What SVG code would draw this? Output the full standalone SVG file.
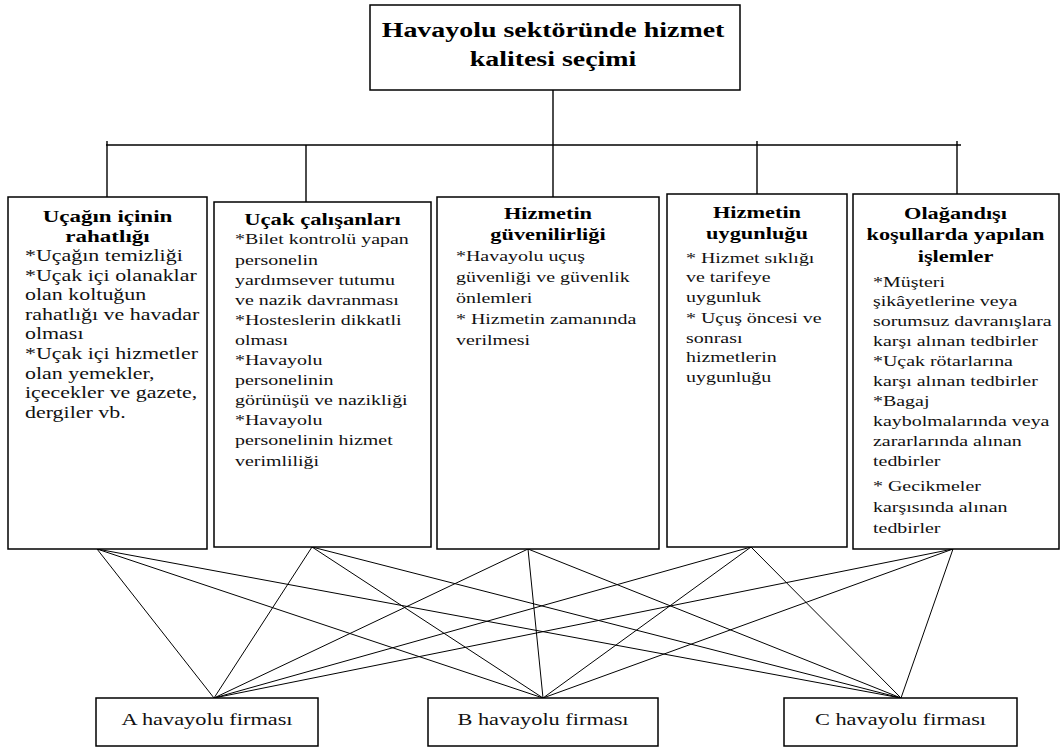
<svg xmlns="http://www.w3.org/2000/svg" width="1062" height="751" viewBox="0 0 1062 751">
  <defs>
    <style>
      .box { fill: #fff; stroke: #000; stroke-width: 1.5; }
      .wire { stroke: #000; stroke-width: 1.4; fill: none; }
      .link { stroke: #000; stroke-width: 1; fill: none; }
      .ttl { font-family: "Liberation Serif", "Times New Roman", serif; font-weight: bold; font-size: 21px; text-anchor: middle; fill: #000; }
      .h { font-family: "Liberation Serif", "Times New Roman", serif; font-weight: bold; font-size: 16.8px; text-anchor: middle; fill: #000; }
      .b { font-family: "Liberation Serif", "Times New Roman", serif; font-size: 15px; fill: #111; }
      .bl { font-size: 16.5px; }
      .f { font-family: "Liberation Serif", "Times New Roman", serif; font-size: 16.8px; text-anchor: middle; fill: #111; }
    </style>
  </defs>

  <!-- links between criteria and airlines -->
  <g id="connectors">
    <g id="tree">
      <line class="wire" x1="553" y1="90" x2="553" y2="197"/>
      <line class="wire" x1="106" y1="145" x2="961" y2="145"/>
      <line class="wire" x1="107" y1="141" x2="107" y2="197"/>
      <line class="wire" x1="306" y1="145" x2="306" y2="202"/>
      <line class="wire" x1="757" y1="141" x2="757" y2="194"/>
      <line class="wire" x1="957" y1="141" x2="957" y2="194"/>
    </g>
    <g id="links">
      <line class="link" x1="97" y1="549" x2="214" y2="698"/>
      <line class="link" x1="97" y1="549" x2="543" y2="698"/>
      <line class="link" x1="97" y1="549" x2="901" y2="698"/>
      <line class="link" x1="312" y1="547" x2="214" y2="698"/>
      <line class="link" x1="312" y1="547" x2="543" y2="698"/>
      <line class="link" x1="312" y1="547" x2="901" y2="698"/>
      <line class="link" x1="528" y1="549" x2="214" y2="698"/>
      <line class="link" x1="528" y1="549" x2="543" y2="698"/>
      <line class="link" x1="528" y1="549" x2="901" y2="698"/>
      <line class="link" x1="751" y1="547" x2="214" y2="698"/>
      <line class="link" x1="751" y1="547" x2="543" y2="698"/>
      <line class="link" x1="751" y1="547" x2="901" y2="698"/>
      <line class="link" x1="953" y1="549" x2="214" y2="698"/>
      <line class="link" x1="953" y1="549" x2="543" y2="698"/>
      <line class="link" x1="953" y1="549" x2="901" y2="698"/>
    </g>
  </g>

  <!-- goal -->
  <g id="goal">
    <rect class="box" x="370" y="5" width="370" height="85"/>
    <g transform="translate(553,0) scale(1.33,1)">
      <text class="ttl" x="0" y="37">Havayolu sektöründe hizmet</text>
      <text class="ttl" x="0" y="66">kalitesi seçimi</text>
    </g>
  </g>

  <!-- criterion 1 -->
  <g id="comfort">
    <rect class="box" x="8" y="197" width="199" height="352"/>
    <g transform="translate(107.5,0) scale(1.37,1)">
      <text class="h" x="0" y="222">Uçağın içinin</text>
      <text class="h" x="0" y="242">rahatlığı</text>
    </g>
    <g transform="translate(25,0) scale(1.33,1)">
      <text class="b bl" x="0" y="261">*Uçağın temizliği</text>
      <text class="b bl" x="0" y="280.6">*Uçak içi olanaklar</text>
      <text class="b bl" x="0" y="300.2">olan koltuğun</text>
      <text class="b bl" x="0" y="319.8">rahatlığı ve havadar</text>
      <text class="b bl" x="0" y="339.4">olması</text>
      <text class="b bl" x="0" y="359">*Uçak içi hizmetler</text>
      <text class="b bl" x="0" y="378.6">olan yemekler,</text>
      <text class="b bl" x="0" y="398.2">içecekler ve gazete,</text>
      <text class="b bl" x="0" y="417.8">dergiler vb.</text>
    </g>
  </g>

  <!-- criterion 2 -->
  <g id="staff">
    <rect class="box" x="214" y="202" width="217" height="345"/>
    <g transform="translate(322.5,0) scale(1.35,1)">
      <text class="h" x="0" y="225">Uçak çalışanları</text>
    </g>
    <g transform="translate(235,0) scale(1.33,1)">
      <text class="b" x="0" y="244.5">*Bilet kontrolü yapan</text>
      <text class="b" x="0" y="264.6">personelin</text>
      <text class="b" x="0" y="284.7">yardımsever tutumu</text>
      <text class="b" x="0" y="304.8">ve nazik davranması</text>
      <text class="b" x="0" y="324.9">*Hosteslerin dikkatli</text>
      <text class="b" x="0" y="345">olması</text>
      <text class="b" x="0" y="365.1">*Havayolu</text>
      <text class="b" x="0" y="385.2">personelinin</text>
      <text class="b" x="0" y="405.3">görünüşü ve nazikliği</text>
      <text class="b" x="0" y="425.4">*Havayolu</text>
      <text class="b" x="0" y="445.5">personelinin hizmet</text>
      <text class="b" x="0" y="465.6">verimliliği</text>
    </g>
  </g>

  <!-- criterion 3 -->
  <g id="reliability">
    <rect class="box" x="437" y="197" width="222" height="352"/>
    <g transform="translate(548,0) scale(1.33,1)">
      <text class="h" x="0" y="219">Hizmetin</text>
      <text class="h" x="0" y="240">güvenilirliği</text>
    </g>
    <g transform="translate(456,0) scale(1.33,1)">
      <text class="b" x="0" y="261">*Havayolu uçuş</text>
      <text class="b" x="0" y="282">güvenliği ve güvenlik</text>
      <text class="b" x="0" y="303">önlemleri</text>
      <text class="b" x="0" y="324">* Hizmetin zamanında</text>
      <text class="b" x="0" y="345">verilmesi</text>
    </g>
  </g>

  <!-- criterion 4 -->
  <g id="suitability">
    <rect class="box" x="667" y="194" width="180" height="353"/>
    <g transform="translate(757,0) scale(1.33,1)">
      <text class="h" x="0" y="218">Hizmetin</text>
      <text class="h" x="0" y="239">uygunluğu</text>
    </g>
    <g transform="translate(686,0) scale(1.33,1)">
      <text class="b" x="0" y="263">* Hizmet sıklığı</text>
      <text class="b" x="0" y="282.5">ve tarifeye</text>
      <text class="b" x="0" y="302">uygunluk</text>
      <text class="b" x="0" y="323.5">* Uçuş öncesi ve</text>
      <text class="b" x="0" y="343">sonrası</text>
      <text class="b" x="0" y="362.5">hizmetlerin</text>
      <text class="b" x="0" y="382">uygunluğu</text>
    </g>
  </g>

  <!-- criterion 5 -->
  <g id="irregular">
    <rect class="box" x="853" y="194" width="206" height="355"/>
    <g transform="translate(955.5,0) scale(1.33,1)">
      <text class="h" x="0" y="219">Olağandışı</text>
      <text class="h" x="0" y="240">koşullarda yapılan</text>
      <text class="h" x="0" y="262">işlemler</text>
    </g>
    <g transform="translate(873,0) scale(1.33,1)">
      <text class="b" x="0" y="287">*Müşteri</text>
      <text class="b" x="0" y="306">şikâyetlerine veya</text>
      <text class="b" x="0" y="326">sorumsuz davranışlara</text>
      <text class="b" x="0" y="346">karşı alınan tedbirler</text>
      <text class="b" x="0" y="366">*Uçak rötarlarına</text>
      <text class="b" x="0" y="386">karşı alınan tedbirler</text>
      <text class="b" x="0" y="406">*Bagaj</text>
      <text class="b" x="0" y="426">kaybolmalarında veya</text>
      <text class="b" x="0" y="446">zararlarında alınan</text>
      <text class="b" x="0" y="466">tedbirler</text>
      <text class="b" x="0" y="491">* Gecikmeler</text>
      <text class="b" x="0" y="512">karşısında alınan</text>
      <text class="b" x="0" y="533">tedbirler</text>
    </g>
  </g>

  <!-- alternatives -->
  <g id="airline-a">
    <rect class="box" x="96" y="698" width="222" height="48"/>
    <g transform="translate(207,0) scale(1.33,1)">
      <text class="f" x="0" y="725">A havayolu firması</text>
    </g>
  </g>
  <g id="airline-b">
    <rect class="box" x="428" y="698" width="230" height="48"/>
    <g transform="translate(543,0) scale(1.33,1)">
      <text class="f" x="0" y="725">B havayolu firması</text>
    </g>
  </g>
  <g id="airline-c">
    <rect class="box" x="784" y="698" width="233" height="48"/>
    <g transform="translate(900.5,0) scale(1.33,1)">
      <text class="f" x="0" y="725">C havayolu firması</text>
    </g>
  </g>
</svg>
